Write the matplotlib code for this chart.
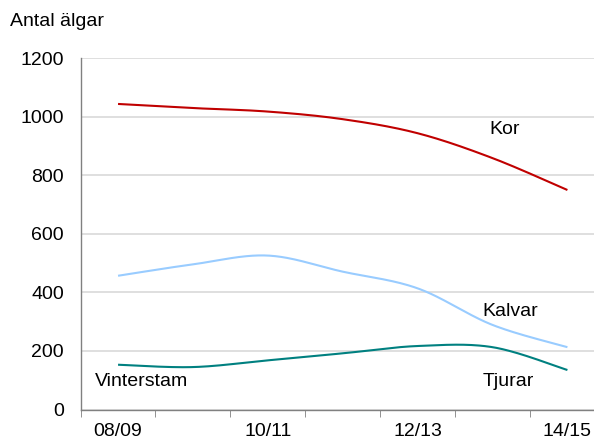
import numpy as np
import matplotlib
matplotlib.use("Agg")
import matplotlib.pyplot as plt
from matplotlib.ticker import FixedLocator

plt.rcParams['font.family'] = ['Liberation Sans', 'DejaVu Sans']

seasons = ["08/09", "09/10", "10/11", "11/12", "12/13", "13/14", "14/15"]
kor = [1044, 1030, 1018, 992, 944, 859, 750]
kalvar = [457, 496, 526, 471, 414, 289, 213]
tjurar = [153, 145, 168, 192, 217, 213, 135]

colors = {"Kor": "#C00000", "Kalvar": "#99CCFF", "Tjurar": "#008080"}
FS = 14


def smooth(xs, ys, n=40):
    # Excel-like smoothed line: cubic Bezier with Catmull-Rom control points
    xs = np.asarray(xs, float)
    ys = np.asarray(ys, float)
    px = np.concatenate([[xs[0]], xs, [xs[-1]]])
    py = np.concatenate([[ys[0]], ys, [ys[-1]]])
    outx, outy = [], []
    t = np.linspace(0, 1, n)
    for i in range(1, len(px) - 2):
        p0 = np.array([px[i], py[i]])
        p3 = np.array([px[i + 1], py[i + 1]])
        c1 = p0 + (np.array([px[i + 1], py[i + 1]]) - np.array([px[i - 1], py[i - 1]])) / 6
        c2 = p3 - (np.array([px[i + 2], py[i + 2]]) - np.array([px[i], py[i]])) / 6
        b = ((1 - t) ** 3)[:, None] * p0 + (3 * (1 - t) ** 2 * t)[:, None] * c1 \
            + (3 * (1 - t) * t ** 2)[:, None] * c2 + (t ** 3)[:, None] * p3
        outx.extend(b[:, 0])
        outy.extend(b[:, 1])
    return outx, outy


fig = plt.figure(figsize=(5.94, 4.41), dpi=100)
ax = fig.add_axes([0.1357, 0.0714, 0.8643, 0.7964])

x = np.arange(len(seasons))
for name, vals in [("Kor", kor), ("Kalvar", kalvar), ("Tjurar", tjurar)]:
    sx, sy = smooth(x, vals)
    ax.plot(sx, sy, color=colors[name], lw=1.5, solid_capstyle='butt', zorder=3)

ax.set_ylim(0, 1200)
ax.set_xlim(-0.5, 6.355)
ax.set_yticks(range(0, 1201, 200))
ax.yaxis.grid(True, color="#D9D9D9", lw=1.2)
ax.set_axisbelow(True)

ax.set_xticks([0, 2, 4, 6])
ax.set_xticklabels([seasons[i] for i in [0, 2, 4, 6]])
ax.xaxis.set_minor_locator(FixedLocator(np.arange(-0.5, 7, 1)))
ax.tick_params(axis='x', which='major', length=0, pad=10, labelsize=FS)
ax.tick_params(axis='x', which='minor', length=5, color="#808080", direction='out')
ax.tick_params(axis='y', length=0, pad=12, labelsize=FS)

for s in ["top", "right"]:
    ax.spines[s].set_visible(False)
for s in ["left", "bottom"]:
    ax.spines[s].set_color("#808080")
    ax.spines[s].set_linewidth(1.0)

fig.text(10 / 594, 1 - 21 / 441, "Antal älgar", fontsize=FS, va='center', ha='left')

def lab(px, py, s):
    fig.text(px / 594, 1 - py / 441, s, fontsize=FS, va='center', ha='center')

lab(505, 129, "Kor")
lab(510, 311, "Kalvar")
lab(508, 381, "Tjurar")
lab(142, 381, "Vinterstam")

fig.savefig("out.png", dpi=100)
